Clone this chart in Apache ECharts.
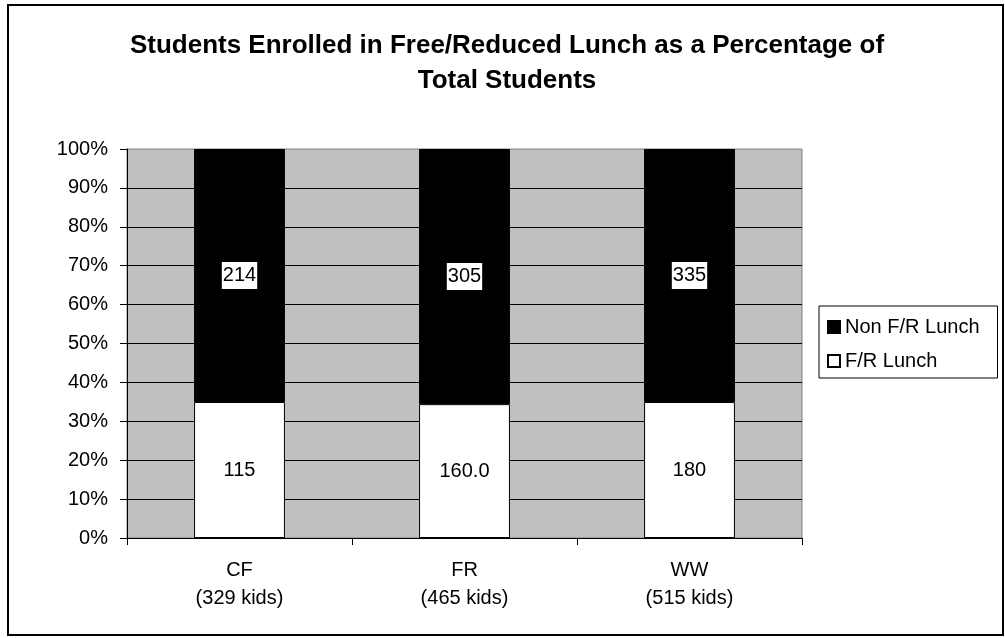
<!DOCTYPE html>
<html>
<head>
<meta charset="utf-8">
<title>Free/Reduced Lunch Enrollment</title>
<script src="https://cdn.jsdelivr.net/npm/echarts@6/dist/echarts.min.js"></script>
<style>
  html, body { margin: 0; padding: 0; background: #fff; }
  #chart { width: 1005px; height: 638px; }
</style>
</head>
<body>
<div id="chart"></div>
<script>
// School codes shown on the category axis
const schools = ['CF', 'FR', 'WW'];
// Students enrolled in free/reduced lunch, per school
const frLunch = [115, 160.0, 180];
// Decimal places used when printing the F/R counts
const frDecimals = [0, 1, 0];
// Students not enrolled in free/reduced lunch, per school
const nonFrLunch = [214, 305, 335];
// Value-axis ticks (percent of total students)
const percentTicks = { min: 0, max: 100, step: 10 };

const FONT = '"Liberation Sans", Arial, Helvetica, sans-serif';

const totals = schools.map((_, i) => frLunch[i] + nonFrLunch[i]);
const categoryLabels = schools.map((s, i) => s + '\n(' + totals[i] + ' kids)');
const frPercent = frLunch.map((v, i) => v / totals[i] * 100);
const nonFrPercent = nonFrLunch.map((v, i) => v / totals[i] * 100);

const chart = echarts.init(document.getElementById('chart'));

chart.setOption({
  animation: false,
  backgroundColor: '#ffffff',
  textStyle: { fontFamily: FONT, color: '#000' },
  title: {
    text: 'Students Enrolled in Free/Reduced Lunch as a Percentage of\nTotal Students',
    left: 507,
    top: 28,
    textAlign: 'center',
    padding: 0,
    textStyle: {
      fontFamily: FONT,
      fontSize: 26,
      fontWeight: 'bold',
      color: '#000',
      lineHeight: 35
    }
  },
  graphic: [{
    type: 'rect',
    shape: { x: 8, y: 5, width: 995, height: 630 },
    style: { fill: 'none', stroke: '#000', lineWidth: 2 },
    silent: true,
    z: -1
  }],
  legend: {
    orient: 'vertical',
    left: 819,
    top: 306,
    padding: [11, 18, 7, 8],
    itemGap: 14,
    itemWidth: 12,
    itemHeight: 12,
    borderColor: '#000',
    borderWidth: 1,
    icon: 'rect',
    data: ['Non F/R Lunch', 'F/R Lunch'],
    textStyle: { fontFamily: FONT, fontSize: 20, color: '#000', lineHeight: 20 }
  },
  grid: {
    left: 127,
    top: 149,
    right: 203,
    bottom: 100,
    show: true,
    backgroundColor: '#C0C0C0',
    borderColor: '#808080',
    borderWidth: 1,
    containLabel: false
  },
  xAxis: {
    type: 'category',
    data: categoryLabels,
    boundaryGap: true,
    axisLine: { lineStyle: { color: '#000', width: 1 } },
    axisTick: { show: true, length: 7, alignWithLabel: false, lineStyle: { color: '#000' } },
    axisLabel: {
      margin: 18,
      fontFamily: FONT,
      fontSize: 20,
      lineHeight: 28,
      color: '#000'
    },
    splitLine: { show: false }
  },
  yAxis: {
    type: 'value',
    min: percentTicks.min,
    max: percentTicks.max,
    interval: percentTicks.step,
    axisLine: { show: true, lineStyle: { color: '#000', width: 1 } },
    axisTick: { show: true, length: 7, lineStyle: { color: '#000' } },
    axisLabel: {
      formatter: '{value}%',
      margin: 19,
      fontFamily: FONT,
      fontSize: 20,
      color: '#000'
    },
    splitLine: {
      show: true,
      showMaxLine: false,
      lineStyle: { color: '#000', width: 1 }
    }
  },
  series: [
    {
      name: 'F/R Lunch',
      type: 'bar',
      stack: 'students',
      barWidth: '40.4%',
      data: frPercent,
      itemStyle: { color: '#ffffff', borderColor: '#000', borderWidth: 1 },
      label: {
        show: true,
        position: 'inside',
        fontFamily: FONT,
        fontSize: 20,
        color: '#000',
        formatter: p => frLunch[p.dataIndex].toFixed(frDecimals[p.dataIndex])
      },
      emphasis: { disabled: true }
    },
    {
      name: 'Non F/R Lunch',
      type: 'bar',
      stack: 'students',
      barWidth: '40.4%',
      data: nonFrPercent,
      itemStyle: { color: '#000000', borderColor: '#000', borderWidth: 1 },
      label: {
        show: true,
        position: 'inside',
        fontFamily: FONT,
        fontSize: 20,
        lineHeight: 24,
        color: '#000',
        backgroundColor: '#ffffff',
        padding: [2, 1, 1, 1],
        formatter: p => String(nonFrLunch[p.dataIndex])
      },
      emphasis: { disabled: true }
    }
  ]
});
</script>
</body>
</html>
